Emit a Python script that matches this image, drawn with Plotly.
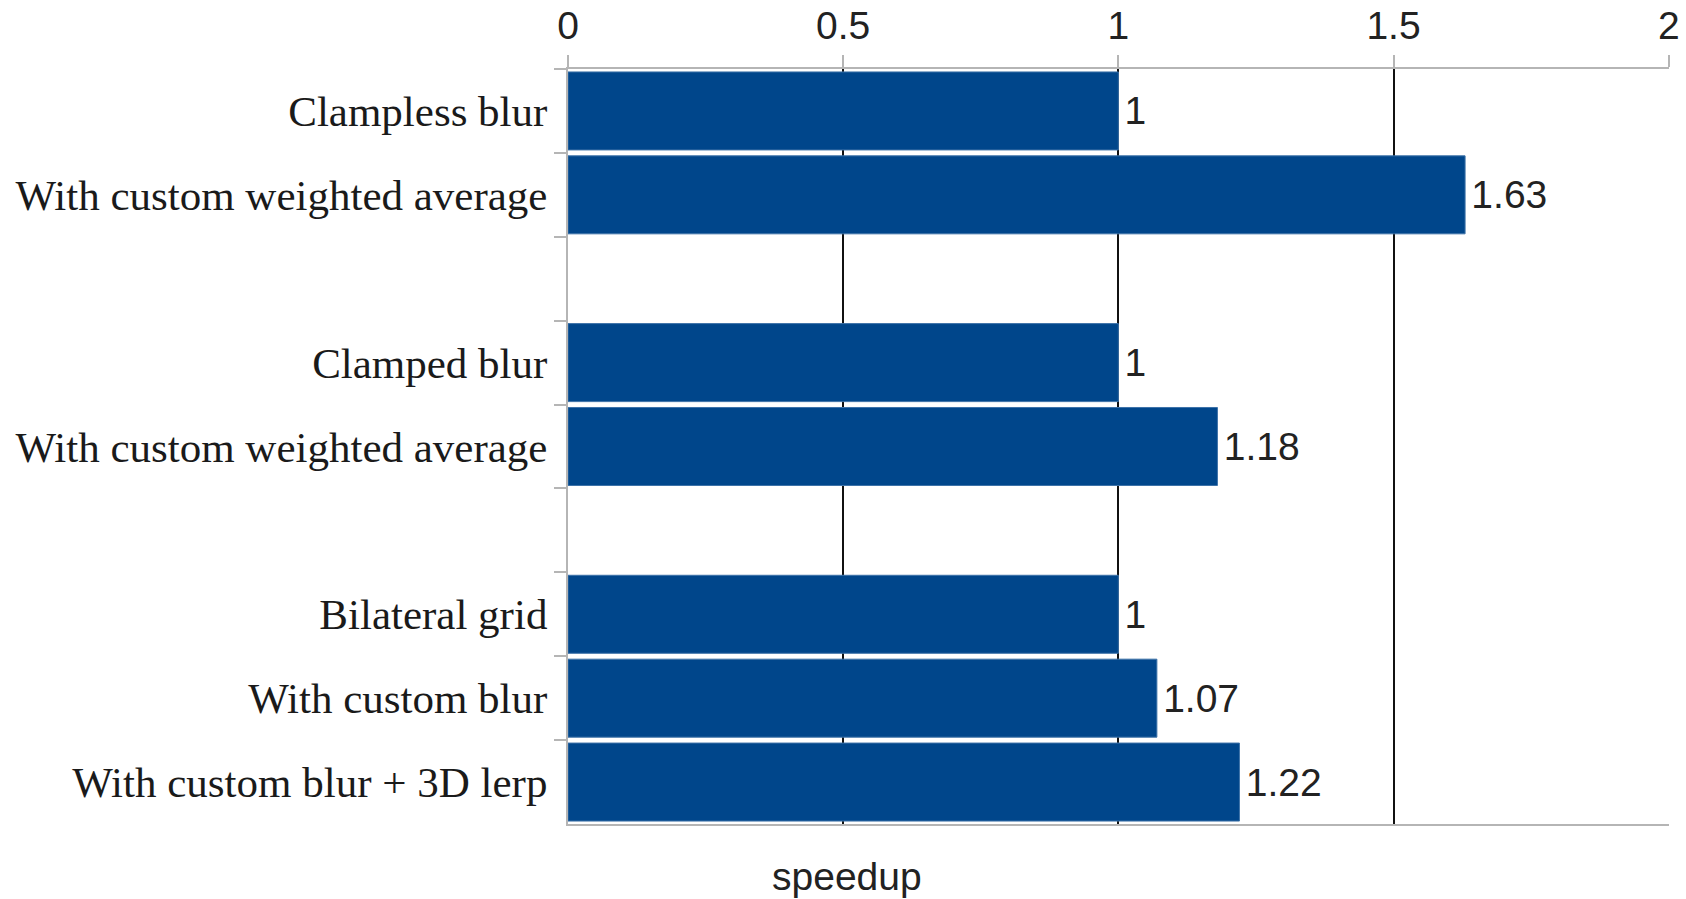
import plotly.graph_objects as go

ZW = "\u200b"  # zero-width marker to keep duplicate category names distinct
categories = ["Clampless blur", "With custom weighted average", " ",
              "Clamped blur", "With custom weighted average" + ZW, "  ",
              "Bilateral grid", "With custom blur", "With custom blur + 3D lerp"]
bar_categories = ["Clampless blur", "With custom weighted average",
                  "Clamped blur", "With custom weighted average" + ZW,
                  "Bilateral grid", "With custom blur", "With custom blur + 3D lerp"]
speedup = [1, 1.63, 1, 1.18, 1, 1.07, 1.22]
bar_labels = ["1", "1.63", "1", "1.18", "1", "1.07", "1.22"]
x_ticks = [0, 0.5, 1, 1.5, 2]
x_tick_text = ["0", "0.5", "1", "1.5", "2"]

fig = go.Figure()
fig.add_trace(go.Bar(
    x=speedup, y=bar_categories, orientation="h",
    marker=dict(color="#00468b", line=dict(color="#3d72a8", width=1)),
    text=["\u200a" + t for t in bar_labels], textposition="outside", cliponaxis=False,
    textfont=dict(family="Liberation Sans", size=39, color="#222222"),
    hoverinfo="skip",
))

fig.update_layout(
    width=1686, height=899,
    margin=dict(l=568, r=17, t=69, b=75, autoexpand=False),
    paper_bgcolor="white", plot_bgcolor="white",
    bargap=0.07, showlegend=False,
    xaxis=dict(
        side="top", range=[0, 2.0005], tickvals=x_ticks, ticktext=x_tick_text,
        automargin=False,
        showgrid=True, gridcolor="#111111", gridwidth=1.5,
        zeroline=False, showline=True, linecolor="#b5b5b5", linewidth=2,
        mirror=True, ticks="outside", ticklen=12, tickcolor="#b5b5b5", tickwidth=2,
        tickfont=dict(family="Liberation Sans", size=39, color="#222222"),
    ),
    yaxis=dict(
        type="category", categoryorder="array", categoryarray=categories,
        range=[len(categories) - 0.5, -0.5], tickson="boundaries",
        automargin=False,
        showgrid=False, zeroline=False,
        showline=True, linecolor="#b5b5b5", linewidth=2,
        ticks="outside", ticklen=12, tickcolor="#b5b5b5", tickwidth=2,
        ticklabelstandoff=10,
        tickfont=dict(family="Liberation Serif", size=43, color="#1a1a1a"),
    ),
    annotations=[dict(
        text="speedup", xref="paper", yref="paper", x=0.253, y=-0.07,
        xanchor="center", yanchor="middle", showarrow=False,
        font=dict(family="Liberation Sans", size=39, color="#222222"),
    )],
)

fig.write_html("out.html", config={"displayModeBar": False},
               post_script="document.body.style.margin='0';document.body.style.overflow='hidden';")
